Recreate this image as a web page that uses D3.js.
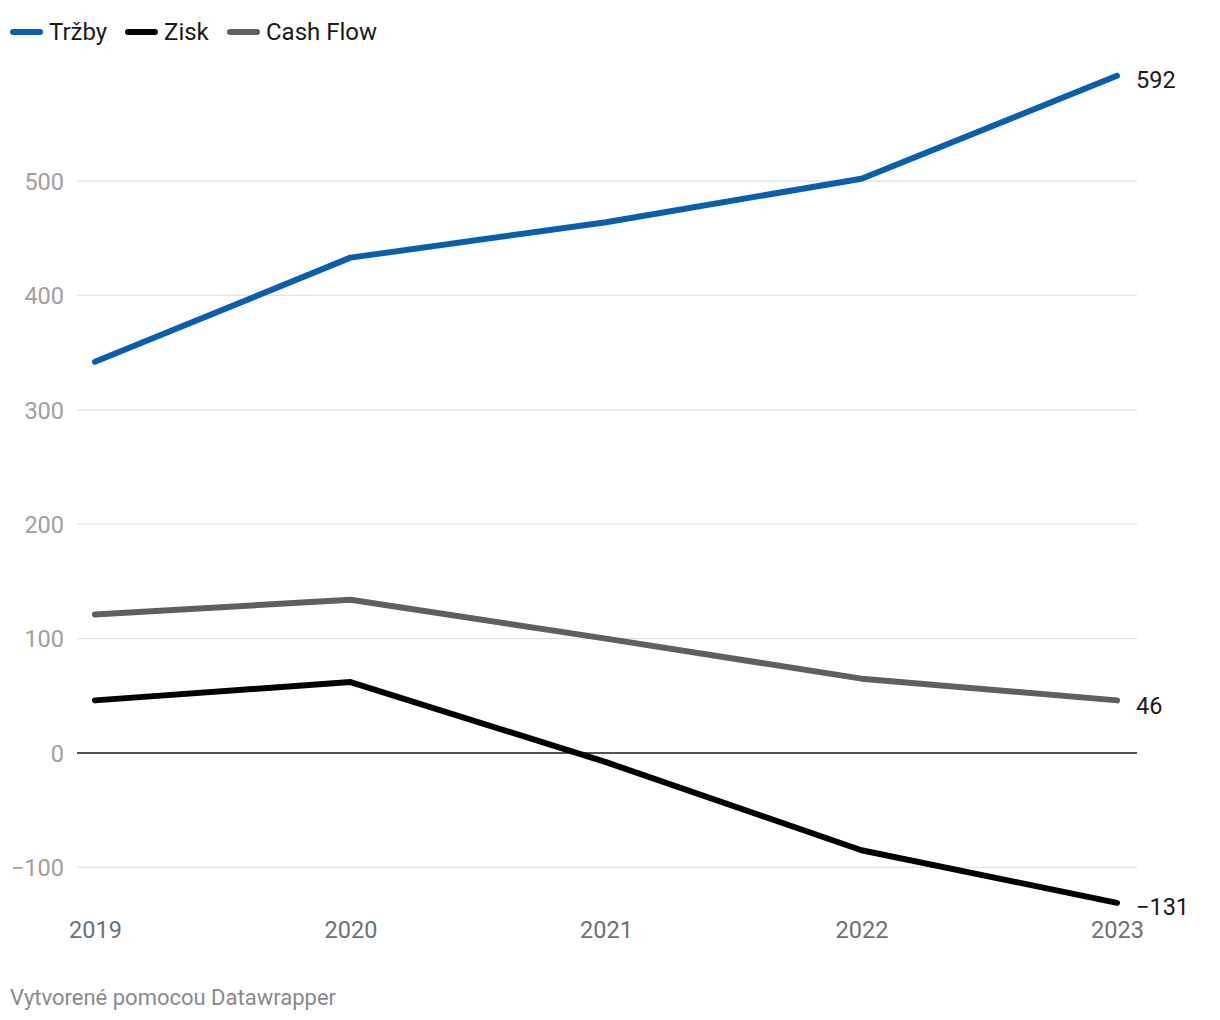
<!DOCTYPE html>
<html><head><meta charset="utf-8">
<script src="https://cdn.jsdelivr.net/npm/d3@7"></script>
<style>body{margin:0;background:#fff;font-family:Roboto,"Noto Sans",sans-serif;}</style>
</head><body><svg id="c" width="1220" height="1020"></svg>
<script>
const years = ["2019","2020","2021","2022","2023"];
const trzby = [342, 433, 464, 502, 592];
const zisk = [46, 62, -8, -85, -131];
const cashFlow = [121, 134, 100, 65, 46];
const yTicks = [-100, 0, 100, 200, 300, 400, 500];
const seriesNames = ["Tržby", "Zisk", "Cash Flow"];
const seriesColors = ["#0a5fad", "#000000", "#5f5f5f"];

const svg = d3.select("#c");
const x = d3.scalePoint().domain(years).range([95, 1117]);
const y = d3.scaleLinear().domain([0, 500]).range([753, 181]);

const grid = svg.append("g");
yTicks.forEach(t => {
  grid.append("line").attr("x1", 77).attr("x2", 1137)
    .attr("y1", y(t)).attr("y2", y(t))
    .attr("stroke", t === 0 ? "#1a1a1a" : "#e3e3e3")
    .attr("stroke-width", t === 0 ? 1.5 : 1.3);
});
const yAxis = d3.axisLeft(y).tickValues(yTicks).tickSize(0).tickPadding(0)
  .tickFormat(d => d < 0 ? "\u2212" + Math.abs(d) : d);
const ya = svg.append("g").attr("transform", "translate(64,0)").call(yAxis);
ya.select(".domain").remove();
ya.selectAll("text").attr("fill", "#a0a0a0").attr("font-size", 23.5)
  .attr("font-family", "Roboto").attr("dy", "0.35em");

const xAxis = d3.axisBottom(x).tickSize(0).tickPadding(0);
const xa = svg.append("g").attr("transform", "translate(0,930)").call(xAxis);
xa.select(".domain").remove();
xa.selectAll("text").attr("fill", "#707070").attr("font-size", 23.5)
  .attr("font-family", "Roboto").attr("dy", "0.35em");

const data = [trzby, zisk, cashFlow];
const line = d3.line().x((d, i) => x(years[i])).y(d => y(d));
[2, 1, 0].forEach(k => {
  svg.append("path").datum(data[k]).attr("d", line)
    .attr("fill", "none").attr("stroke", seriesColors[k])
    .attr("stroke-width", 6).attr("stroke-linecap", "round").attr("stroke-linejoin", "round");
});

const endLabels = [{v: trzby[4], dy: 4}, {v: cashFlow[4], dy: 5}, {v: zisk[4], dy: 4}];
endLabels.forEach(l => {
  svg.append("text").attr("x", 1136).attr("y", y(l.v) + l.dy)
    .attr("dy", "0.35em").attr("font-size", 23.5).attr("fill", "#1a1a1a")
    .attr("font-family", "Roboto")
    .text(l.v < 0 ? "\u2212" + Math.abs(l.v) : l.v);
});

const legX = [10, 125, 227];
seriesNames.forEach((n, i) => {
  svg.append("line").attr("x1", legX[i] + 3).attr("x2", legX[i] + 30)
    .attr("y1", 32).attr("y2", 32).attr("stroke", seriesColors[i])
    .attr("stroke-width", 6).attr("stroke-linecap", "round");
  svg.append("text").attr("x", legX[i] + 39).attr("y", 32).attr("dy", "0.35em")
    .attr("font-size", 24).attr("fill", "#1a1a1a").attr("font-family", "Roboto").text(n);
});

svg.append("text").attr("x", 10).attr("y", 997).attr("dy", "0.35em")
  .attr("font-size", 22).attr("fill", "#8a8a8a").attr("font-family", "Roboto")
  .text("Vytvorené pomocou Datawrapper");
</script></body></html>
